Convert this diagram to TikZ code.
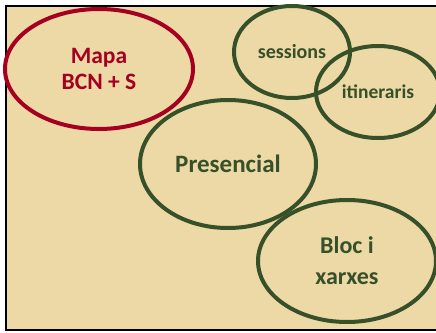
\documentclass[tikz,border=0pt]{standalone}
\usepackage{fontspec}
\setmainfont{Carlito}
\usetikzlibrary{shapes.geometric}
\definecolor{parch}{HTML}{EDD9A6}
\definecolor{mapred}{HTML}{A50021}
\definecolor{dgreen}{HTML}{36502A}
\begin{document}
\begin{tikzpicture}[x=1pt,y=-1pt,
  oval/.style={ellipse, draw, line width=4pt, inner sep=0pt, align=center},
  redoval/.style={oval, draw=mapred, text=mapred},
  greenoval/.style={oval, draw=dgreen, text=dgreen}]
\useasboundingbox (0,0) rectangle (436,332);
\clip (0,0) rectangle (436,332);
\fill[white] (0,0) rectangle (436,332);
\draw[fill=parch, line width=2pt] (6,6) rectangle (445,330);
\node[redoval, minimum width=188pt, minimum height=120pt, font=\bfseries\fontsize{23.5}{26}\selectfont] (mapa) at (99,69) {Mapa\\BCN + S};
\node[greenoval, minimum width=116pt, minimum height=92pt, font=\bfseries\fontsize{20}{24}\selectfont] (sess) at (292,52) {sessions};
\node[greenoval, minimum width=124pt, minimum height=92pt, font=\bfseries\fontsize{19.5}{24}\selectfont] (itin) at (378,92) {itineraris};
\node[greenoval, minimum width=176pt, minimum height=128pt, font=\bfseries\fontsize{25}{30}\selectfont] (pres) at (228,164) {Presencial};
\node[greenoval, minimum width=178pt, minimum height=122pt, font=\bfseries\fontsize{24}{31}\selectfont] (bloc) at (347,261) {Bloc i\\xarxes};
\end{tikzpicture}
\end{document}
